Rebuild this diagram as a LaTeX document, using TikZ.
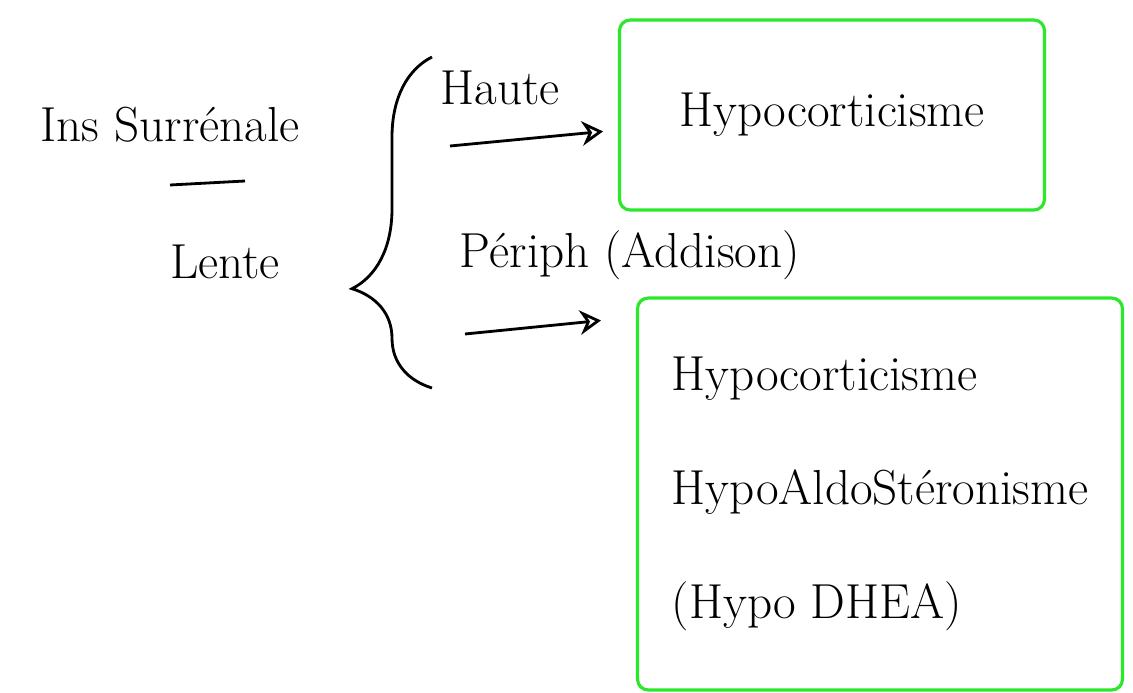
\documentclass[tikz,border=0pt]{standalone}
\usepackage{fontspec}
\usetikzlibrary{
  arrows.meta,
  positioning,
  calc,
  decorations.pathreplacing
}
\definecolor{srgreen}{HTML}{2BE82B}

\begin{document}
\begin{tikzpicture}[x=0.02cm, y=-0.02cm,
  every node/.style={font=\fontsize{28}{34}\selectfont},
  word/.style={inner sep=0pt},
  gbox/.style={rectangle, rounded corners=6pt, draw=srgreen, line width=1.8pt},
  arr/.style={-{Stealth[open, length=12pt, width=14pt]}, line width=1.6pt},
]
\useasboundingbox (0,0) rectangle (1133,693);

\node[word](ins) at (170,125) {Ins Surrénale};
\node[word](lente) at (225,262) {Lente};
\draw[line width=1.6pt] (170,185) -- (245,181);

\draw[line width=1.6pt, decorate,
      decoration={brace, amplitude=1.6cm, aspect=0.3}] (432,388) -- (432,57);

\node[word](haute) at (500,88) {Haute};
\node[gbox, minimum width=8.5cm, minimum height=3.8cm](hypo) at (832,115)
  {Hypocorticisme};
\coordinate (hs) at (450,146);
\draw[arr, shorten >=0.3cm] (hs) -- ([yshift=-0.3cm]hypo.west);

\node[word](periph) at (630,255) {Périph (Addison)};
\node[gbox, minimum width=9.7cm, minimum height=7.84cm, align=left,
      font=\fontsize{28}{65}\selectfont](pbox) at (880,494)
  {Hypocorticisme\\HypoAldoStéronisme\\(Hypo DHEA)};
\coordinate (ps) at (465,334);
\draw[arr] (ps) -- ($(pbox.north west)+(-35,24)$);
\end{tikzpicture}
\end{document}
